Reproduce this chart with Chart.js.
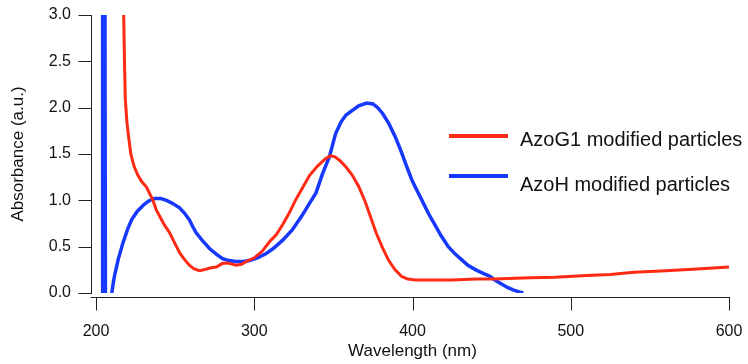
<!DOCTYPE html>
<html>
<head>
<meta charset="utf-8">
<script src="https://cdn.jsdelivr.net/npm/chart.js@4/dist/chart.umd.min.js"></script>
<style>
  html, body { margin: 0; padding: 0; background: #fff; }
  #wrap { position: relative; width: 748px; height: 364px; }
</style>
</head>
<body>
<div id="wrap"><canvas id="c"></canvas></div>
<script>
// AzoG1 modified particles (red)
const azoG1Wavelength = [216.8, 217.5, 218.0, 218.5, 219.5, 220.5, 222, 224, 226.5, 229, 232, 234, 236, 238, 240.5, 243, 246.5, 250, 253, 256, 259, 262, 265.5, 268, 272, 276, 280, 284, 288.5, 292, 295, 300, 305, 310, 314, 318, 322, 326, 330, 335, 340, 345, 348, 351, 354, 358, 362, 366, 370, 373.5, 377, 381, 385, 389, 393, 397, 402, 410, 425, 440, 452, 465, 475, 490, 510, 525, 540, 560, 577, 590, 600];
const azoG1Absorbance = [3.6, 3.0, 2.5, 2.1, 1.85, 1.7, 1.5, 1.37, 1.27, 1.2, 1.14, 1.07, 1.0, 0.9, 0.82, 0.74, 0.65, 0.53, 0.43, 0.36, 0.30, 0.26, 0.24, 0.25, 0.27, 0.28, 0.32, 0.32, 0.30, 0.31, 0.34, 0.38, 0.45, 0.56, 0.63, 0.74, 0.86, 1.0, 1.12, 1.27, 1.37, 1.45, 1.48, 1.47, 1.43, 1.36, 1.27, 1.15, 0.99, 0.82, 0.65, 0.49, 0.35, 0.25, 0.18, 0.15, 0.14, 0.14, 0.14, 0.15, 0.15, 0.16, 0.165, 0.17, 0.19, 0.2, 0.225, 0.24, 0.256, 0.27, 0.28];

// AzoH modified particles (blue)
const azoHWavelength = [203.8, 204.2, 205.6, 206, 208, 209.5, 210, 211, 212, 214, 217, 220, 222.5, 226, 230, 233, 237, 241, 244.5, 248, 252.8, 256, 259, 261, 263.3, 267, 271.7, 276, 280, 284, 288.5, 293, 297, 302, 307, 312, 318, 324, 330, 335, 339, 343, 347.5, 351.4, 355, 358, 362, 366, 371, 375, 378, 381, 385, 389, 393, 396, 399.6, 403, 406, 410, 414, 418, 422.6, 427, 431, 435, 440, 445, 449, 452, 456, 460, 464, 468, 470];
const azoHAbsorbance = [-0.5, 3.6, 3.6, -0.5, -0.5, -0.05, 0.0, 0.12, 0.21, 0.36, 0.54, 0.69, 0.79, 0.88, 0.95, 0.99, 1.02, 1.02, 1.0, 0.97, 0.92, 0.86, 0.79, 0.72, 0.65, 0.57, 0.48, 0.42, 0.37, 0.35, 0.34, 0.34, 0.35, 0.38, 0.42, 0.48, 0.57, 0.68, 0.83, 0.97, 1.08, 1.28, 1.47, 1.72, 1.85, 1.92, 1.97, 2.02, 2.05, 2.04, 2.0, 1.94, 1.83, 1.69, 1.52, 1.38, 1.22, 1.1, 1.0, 0.86, 0.74, 0.62, 0.50, 0.42, 0.36, 0.30, 0.25, 0.21, 0.18, 0.14, 0.10, 0.06, 0.03, 0.01, 0.0];

const xTicks = [200, 300, 400, 500, 600];
const yTicks = [0, 0.5, 1.0, 1.5, 2.0, 2.5, 3.0];

const RED = 'rgb(255,42,20)';
const BLUE = 'rgb(22,56,255)';
const AXIS = '#222';
const FONT = '"Liberation Sans", Arial, sans-serif';

function points(xs, ys) {
    return xs.map((x, i) => ({ x: x, y: ys[i] }));
}

// axes drawn offset from the plot (standoff), plus the in-plot legend
const frame = {
    id: 'frame',
    afterDraw(chart) {
        const ctx = chart.ctx;
        const x = chart.scales.x, y = chart.scales.y;
        const axX = Math.round(chart.chartArea.left - 5) + 0.5;
        const axY = Math.round(chart.chartArea.bottom + 4) + 0.5;
        ctx.save();
        ctx.strokeStyle = AXIS;
        ctx.lineWidth = 1;
        ctx.beginPath();
        ctx.moveTo(axX, Math.round(y.getPixelForValue(3)));
        ctx.lineTo(axX, Math.round(y.getPixelForValue(0)) + 1);
        yTicks.forEach(v => {
            const py = Math.round(y.getPixelForValue(v)) + 0.5;
            ctx.moveTo(axX - 13, py);
            ctx.lineTo(axX, py);
        });
        ctx.moveTo(axX - 1, axY);
        ctx.lineTo(Math.round(x.getPixelForValue(600)) + 1, axY);
        xTicks.forEach(v => {
            const px = Math.round(x.getPixelForValue(v)) + 0.5;
            ctx.moveTo(px, axY);
            ctx.lineTo(px, axY + 13);
        });
        ctx.stroke();

        // legend
        const rows = [[136, 146], [176, 191]];
        chart.data.datasets.forEach((ds, i) => {
            ctx.strokeStyle = ds.borderColor;
            ctx.lineWidth = 4;
            ctx.beginPath();
            ctx.moveTo(449, rows[i][0]);
            ctx.lineTo(508, rows[i][0]);
            ctx.stroke();
            ctx.fillStyle = '#111';
            ctx.font = '20px ' + FONT;
            ctx.textBaseline = 'alphabetic';
            ctx.textAlign = 'left';
            ctx.fillText(ds.label, 520, rows[i][1]);
        });
        ctx.restore();
    }
};

new Chart(document.getElementById('c').getContext('2d'), {
    type: 'line',
    data: {
        datasets: [
            { label: 'AzoG1 modified particles', data: points(azoG1Wavelength, azoG1Absorbance),
              borderColor: RED, borderWidth: 3, pointRadius: 0, tension: 0 },
            { label: 'AzoH modified particles', data: points(azoHWavelength, azoHAbsorbance),
              borderColor: BLUE, borderWidth: 3.5, pointRadius: 0, tension: 0 }
        ]
    },
    options: {
        responsive: true,
        maintainAspectRatio: false,
        animation: false,
        layout: { padding: { top: 15, right: 19, left: 0, bottom: 0 } },
        plugins: { legend: { display: false }, tooltip: { enabled: false } },
        scales: {
            x: {
                type: 'linear', min: 200, max: 600,
                afterBuildTicks: s => { s.ticks = xTicks.map(v => ({ value: v })); },
                afterFit: s => { s.height = 71; s.paddingLeft = 0; s.paddingRight = 0; },
                grid: { display: false, drawTicks: false },
                border: { display: false },
                ticks: { padding: 29, color: '#111', maxRotation: 0,
                         font: { family: FONT, size: 16 } },
                title: { display: true, text: 'Wavelength (nm)', color: '#111', padding: { top: 0, bottom: 2 },
                         font: { family: FONT, size: 17 } }
            },
            y: {
                type: 'linear', min: 0, max: 3,
                afterBuildTicks: s => { s.ticks = yTicks.map(v => ({ value: v })); },
                afterFit: s => { s.width = 96; s.paddingTop = 0; s.paddingBottom = 0; },
                grid: { display: false, drawTicks: false },
                border: { display: false },
                ticks: { padding: 25, color: '#111', callback: v => v.toFixed(1),
                         font: { family: FONT, size: 16 } },
                title: { display: true, text: 'Absorbance (a.u.)', color: '#111', padding: { top: 8, bottom: 0 },
                         font: { family: FONT, size: 17 } }
            }
        }
    },
    plugins: [frame]
});
</script>
</body>
</html>
